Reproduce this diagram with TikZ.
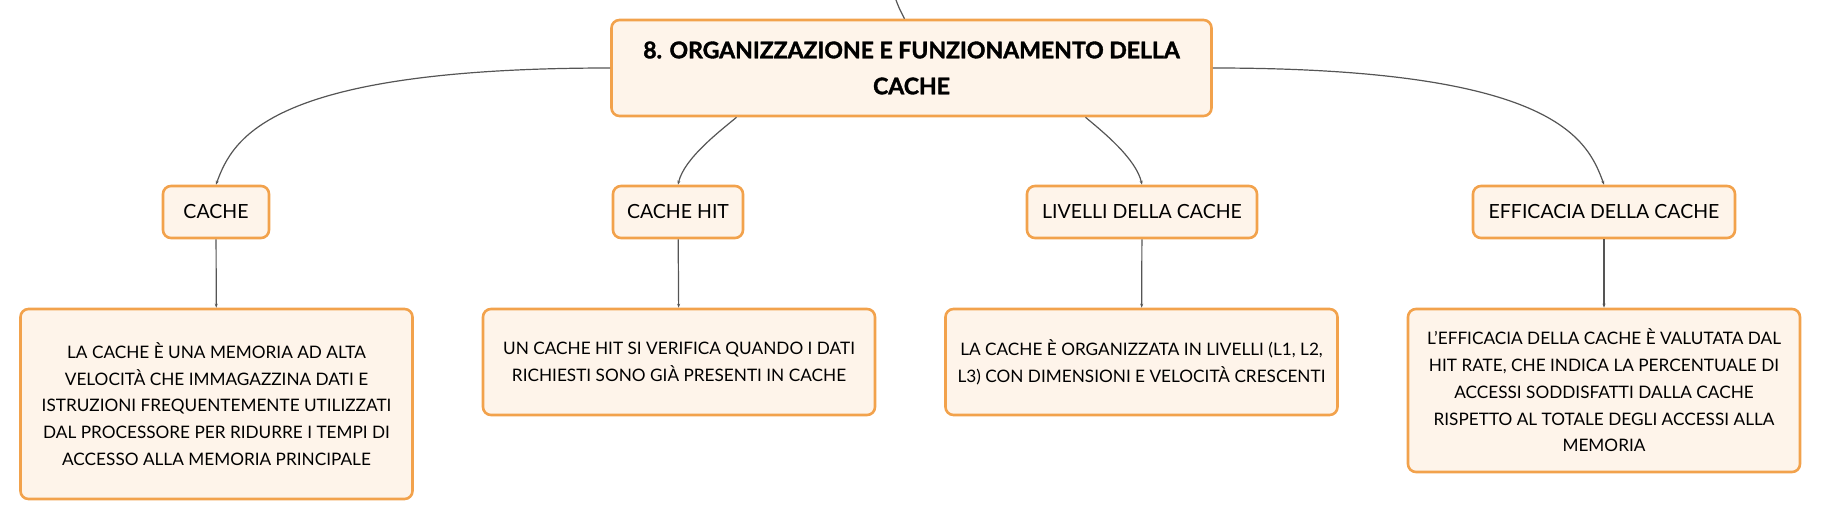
\documentclass[tikz,border=0pt]{standalone}
\usepackage{fontspec}
\setmainfont{Lato}
\newfontfamily\titlefont{Lato}[BoldFeatures={FakeBold=1.6}]
\usetikzlibrary{arrows.meta}
\definecolor{boxorange}{HTML}{F2A24C}
\definecolor{boxfill}{HTML}{FEF4EA}
\definecolor{linegray}{HTML}{555555}

\tikzset{
  box/.style={draw=boxorange, fill=boxfill, line width=2.6pt, rounded corners=8pt,
    align=center, inner sep=0pt},
  rootbox/.style={box, minimum width=600pt, minimum height=96pt,
    font=\titlefont\bfseries\fontsize{23}{36}\selectfont},
  subbox/.style={box, minimum height=52pt, font=\fontsize{19.5}{24}\selectfont},
  textbox/.style={box, minimum width=392pt, font=\fontsize{17.2}{26.8}\selectfont},
  conn/.style={draw=linegray, line width=1.2pt, -{Stealth[length=4pt,width=3pt]}}
}

\begin{document}
\begin{tikzpicture}[x=1pt, y=-1pt]
    \useasboundingbox (0,0) rectangle (1821,521);
    % Main topic
    \node[rootbox] (root) at (911.5,68) {8. ORGANIZZAZIONE E FUNZIONAMENTO DELLA\\CACHE};
    \coordinate (up) at (896,0);
    \draw[draw=linegray, line width=1.2pt] (up) .. controls (899,8) .. ([xshift=-7pt]root.north);
    % Subtopics
    \node[subbox, minimum width=106pt] (cache) at (216,212) {CACHE};
    \node[subbox, minimum width=130pt] (hit) at (678,212) {CACHE HIT};
    \node[subbox, minimum width=230pt] (liv) at (1142,212) {LIVELLI DELLA CACHE};
    \node[subbox, minimum width=262pt] (eff) at (1604,212) {EFFICACIA DELLA CACHE};
    % Descriptions
    \node[textbox, minimum height=190pt] (cacheT) at (216.5,404) {LA CACHE È UNA MEMORIA AD ALTA\\VELOCITÀ CHE IMMAGAZZINA DATI E\\ISTRUZIONI FREQUENTEMENTE UTILIZZATI\\DAL PROCESSORE PER RIDURRE I TEMPI DI\\ACCESSO ALLA MEMORIA PRINCIPALE};
    \node[textbox, minimum height=106pt] (hitT) at (679,362) {UN CACHE HIT SI VERIFICA QUANDO I DATI\\RICHIESTI SONO GIÀ PRESENTI IN CACHE};
    \node[textbox, minimum height=106pt] (livT) at (1141.5,362) {LA CACHE È ORGANIZZATA IN LIVELLI (L1, L2,\\L3) CON DIMENSIONI E VELOCITÀ CRESCENTI};
    \node[textbox, minimum height=163pt] (effT) at (1604,390.5) {L'EFFICACIA DELLA CACHE È VALUTATA DAL\\HIT RATE, CHE INDICA LA PERCENTUALE DI\\ACCESSI SODDISFATTI DALLA CACHE\\RISPETTO AL TOTALE DEGLI ACCESSI ALLA\\MEMORIA};
    % Root to subtopics
    \draw[conn] (root.west) .. controls +(-340,0) and +(17,-47) .. (cache.north);
    \draw[conn] ([xshift=-175pt]root.south) .. controls +(-18,15) and +(6,-26) .. (hit.north);
    \draw[conn] ([xshift=174pt]root.south) .. controls +(18,15) and +(-6,-26) .. (liv.north);
    \draw[conn] (root.east) .. controls +(340,0) and +(-17,-47) .. (eff.north);
    % Subtopics to descriptions
    \draw[conn] (cache) -- (cacheT);
    \draw[conn] (hit) -- (hitT);
    \draw[conn] (liv) -- (livT);
    \draw[conn] (eff) -- (effT);
\end{tikzpicture}
\end{document}
